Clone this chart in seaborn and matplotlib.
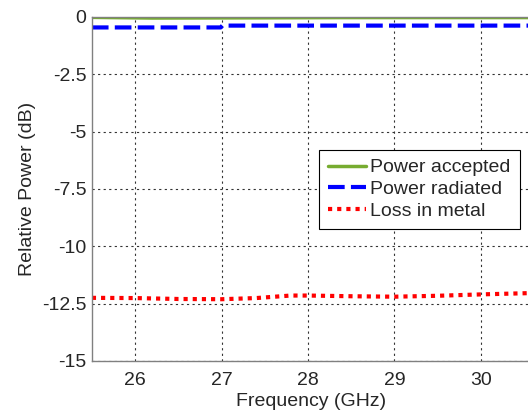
import numpy as np
import pandas as pd
import matplotlib
matplotlib.use("Agg")
import matplotlib.pyplot as plt
import seaborn as sns

# values
freq_acc = [25.5, 26.2, 27.5, 28.4, 29.5, 30.6]
power_accepted = [-0.02, -0.05, -0.04, -0.03, -0.03, -0.03]

freq_rad = [25.5, 26.0, 26.5, 26.99, 27.01, 28.0, 29.0, 30.0, 30.6]
power_radiated = [-0.46, -0.46, -0.46, -0.46, -0.38, -0.38, -0.38, -0.38, -0.38]

freq_loss = [25.5, 26.0, 26.5, 27.0, 27.4, 27.8, 28.0, 28.5, 29.0, 29.5, 30.0, 30.6]
loss_metal = [-12.25, -12.26, -12.3, -12.31, -12.26, -12.15, -12.15, -12.18, -12.2, -12.16, -12.1, -12.04]

x_ticks = [26, 27, 28, 29, 30]
y_ticks = [0, -2.5, -5, -7.5, -10, -12.5, -15]

sns.set_style("white")
plt.rcParams['font.family'] = ['Liberation Sans', 'DejaVu Sans']

fig = plt.figure(figsize=(5.28, 4.12), dpi=100)
ax = fig.add_axes([0.174, 0.124, 0.83, 0.835])

sns.lineplot(x=freq_acc, y=power_accepted, ax=ax, color='#77ac30', lw=2.5,
             label='Power accepted')
sns.lineplot(x=freq_rad, y=power_radiated, ax=ax, color='#0000ff', lw=3,
             label='Power radiated')
ax.lines[-1].set_dashes([4, 1.5])
sns.lineplot(x=freq_loss, y=loss_metal, ax=ax, color='#ff0000', lw=3,
             label='Loss in metal')
ax.lines[-1].set_dashes([1, 1.2])

ax.set_xlim(25.5, 30.57)
ax.set_ylim(-15, 0)
ax.set_xticks(x_ticks)
ax.set_yticks(y_ticks)
ax.set_yticklabels([f'{t:g}' for t in y_ticks])
ax.grid(True, color='#333333', linestyle=(0, (2, 3)), lw=0.8)
ax.tick_params(labelsize=14, length=0)
ax.tick_params(axis='x', pad=8)
ax.tick_params(axis='y', pad=4)
for s in ax.spines.values():
    s.set_color('#808080')
    s.set_linewidth(1)

ax.set_xlabel('Frequency (GHz)', fontsize=14, labelpad=3)
ax.set_ylabel('Relative Power (dB)', fontsize=14, labelpad=4)

leg = ax.legend(loc='upper left', bbox_to_anchor=(0.518, 0.613), fontsize=14,
                frameon=True, fancybox=False, framealpha=1, edgecolor='black',
                handlelength=1.95, handletextpad=0.25, borderpad=0.45,
                labelspacing=0.22, borderaxespad=0)
leg.get_frame().set_linewidth(0.8)

fig.savefig('out.png', dpi=100)
